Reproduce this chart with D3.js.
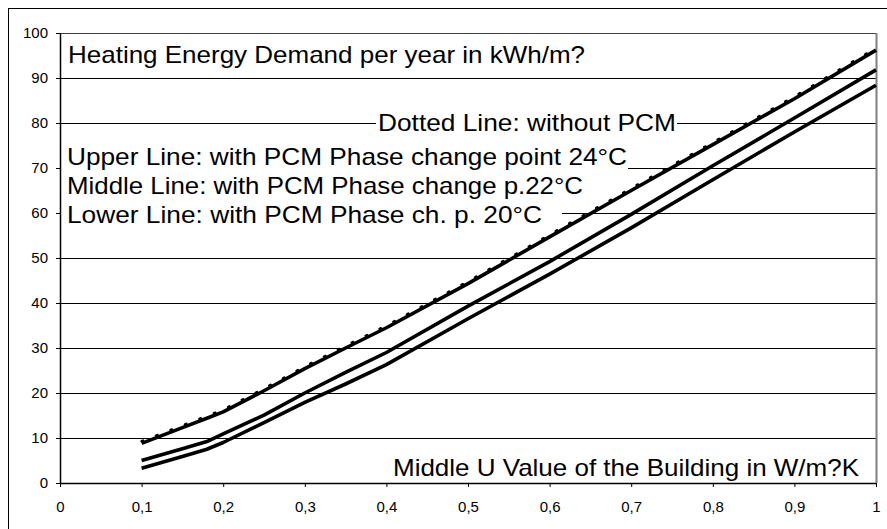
<!DOCTYPE html>
<html>
<head>
<meta charset="utf-8">
<script src="https://cdn.jsdelivr.net/npm/d3@7/dist/d3.min.js"></script>
<style>
  html, body { margin: 0; padding: 0; background: #fff; }
  svg { display: block; font-family: "Liberation Sans", Arial, sans-serif; }
</style>
</head>
<body>
<svg id="chart" width="887" height="529"></svg>
<script>
// ---- data ----
const uValues   = [0.1, 0.15, 0.18, 0.2, 0.25, 0.3, 0.35, 0.4, 0.5, 0.6, 0.7, 0.8, 0.9, 1.0];
const withoutPCM = [9.3, 12.8, 14.9, 16.3, 21.0, 25.9, 30.5, 35.0, 44.8, 55.2, 65.5, 75.7, 85.9, 96.7];
const upper24    = [8.8, 12.3, 14.4, 15.8, 20.5, 25.4, 30.0, 34.5, 44.3, 54.7, 65.0, 75.2, 85.4, 96.2];
const middle22   = [5.0, 7.6, 9.2, 10.9, 15.1, 20.0, 24.6, 29.0, 39.3, 49.2, 59.7, 70.5, 81.1, 91.8];
const lower20    = [3.3, 5.9, 7.5, 9.0, 13.4, 17.9, 22.0, 26.3, 36.5, 46.4, 56.7, 67.4, 78.0, 88.4];
const xTicks = [0, 0.1, 0.2, 0.3, 0.4, 0.5, 0.6, 0.7, 0.8, 0.9, 1];
const yTicks = [0, 10, 20, 30, 40, 50, 60, 70, 80, 90, 100];
const annotations = [
  "Heating Energy Demand per year in kWh/m?",
  "Dotted Line:  without PCM",
  "Upper  Line: with PCM Phase change point 24°C",
  "Middle Line: with PCM Phase change p.22°C",
  "Lower  Line: with PCM Phase ch. p. 20°C",
  "Middle U Value of the Building in W/m?K"
];

// ---- layout ----
const svg = d3.select("#chart");
const L = 60, R = 876, T = 33, B = 483;
const x = d3.scaleLinear().domain([0, 1]).range([L, R]);
const y = d3.scaleLinear().domain([0, 100]).range([B, T]);

// outer frame
svg.append("rect").attr("x", 8.5).attr("y", 8.5).attr("width", 900).attr("height", 600)
  .attr("fill", "#fff").attr("stroke", "#000").attr("stroke-width", 1);

// gridlines
svg.append("g").selectAll("line").data(yTicks.filter(d => d > 0 && d < 100)).join("line")
  .attr("x1", L).attr("x2", R)
  .attr("y1", d => Math.round(y(d)) + 0.5).attr("y2", d => Math.round(y(d)) + 0.5)
  .attr("stroke", "#000").attr("stroke-width", 1);

// plot border top/right
svg.append("line").attr("x1", L).attr("x2", R).attr("y1", T + 0.5).attr("y2", T + 0.5)
  .attr("stroke", "#404040").attr("stroke-width", 1.2);
svg.append("line").attr("x1", R + 0.5).attr("x2", R + 0.5).attr("y1", T).attr("y2", B)
  .attr("stroke", "#808080").attr("stroke-width", 2);

// annotation text boxes (white background hiding gridlines)
const annLayout = [
  {x: 68,  base: 63,  w: 517, x0: 62,  x1: 600},
  {x: 378, base: 131, w: 298, x0: 376, x1: 677},
  {x: 67,  base: 165, w: 560, x0: 61,  x1: 628},
  {x: 67,  base: 194, w: 516, x0: 61,  x1: 600},
  {x: 67,  base: 223, w: 475, x0: 61,  x1: 562},
  {x: 393, base: 476, w: 466, x0: 388, x1: 866}
];
const annG = svg.append("g");
annotations.forEach((t, i) => {
  const a = annLayout[i];
  annG.append("rect").attr("x", a.x0).attr("y", a.base - 20).attr("width", a.x1 - a.x0)
    .attr("height", 26).attr("fill", "#fff");
});
annotations.forEach((t, i) => {
  const a = annLayout[i];
  annG.append("text").attr("x", a.x).attr("y", a.base)
    .attr("font-size", 24).attr("fill", "#000")
    .attr("textLength", a.w).attr("lengthAdjust", "spacingAndGlyphs")
    .text(t);
});

// axes
const xAxis = d3.axisBottom(x).tickValues(xTicks).tickSize(4).tickPadding(14)
  .tickFormat(d => d === 0 ? "0" : d === 1 ? "1" : d3.format(".1f")(d).replace(".", ","));
const gx = svg.append("g").attr("transform", `translate(0,${B})`).call(xAxis);
gx.select(".domain").attr("stroke", "#000").attr("stroke-width", 1.5).attr("d", `M${L},0.5H${R}`);
gx.selectAll(".tick line").attr("stroke", "#000");
gx.selectAll(".tick text").attr("font-size", 15).attr("fill", "#000")
  .attr("font-family", "Liberation Sans, Arial, sans-serif");

const yAxis = d3.axisLeft(y).tickValues(yTicks).tickSize(4).tickPadding(8);
const gy = svg.append("g").attr("transform", `translate(${L},0)`).call(yAxis);
gy.select(".domain").attr("stroke", "#000").attr("stroke-width", 1.5).attr("d", `M0.5,${B}V${T}`);
gy.selectAll(".tick line").attr("stroke", "#000");
gy.selectAll(".tick text").attr("font-size", 15).attr("fill", "#000")
  .attr("font-family", "Liberation Sans, Arial, sans-serif");

// series
const line = d3.line().x((d, i) => x(uValues[i])).y(d => y(d)).curve(d3.curveLinear);
svg.append("path").datum(withoutPCM).attr("d", line).attr("fill", "none")
  .attr("stroke", "#000").attr("stroke-width", 2.5).attr("stroke-dasharray", "1.5,14")
  .attr("stroke-linecap", "round");
[upper24, middle22, lower20].forEach(s => {
  svg.append("path").datum(s).attr("d", line).attr("fill", "none")
    .attr("stroke", "#000").attr("stroke-width", 3.6).attr("stroke-linejoin", "round");
});
</script>
</body>
</html>
